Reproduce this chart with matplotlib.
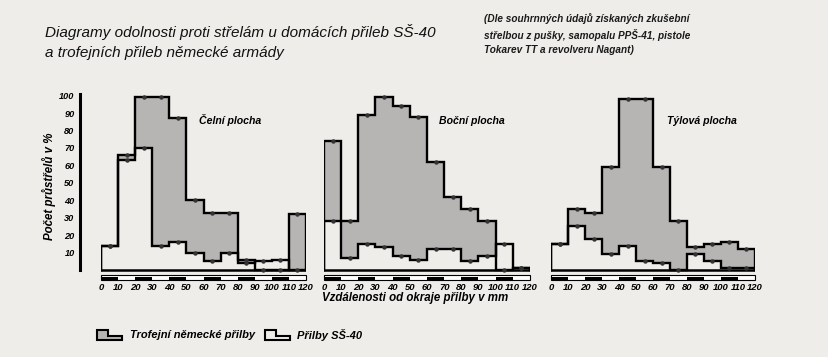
import numpy as np
import matplotlib
matplotlib.use("Agg")
import matplotlib.pyplot as plt
from matplotlib.patches import Rectangle, Polygon

# bin edges of distance from helmet rim (mm)
edges = np.arange(0, 130, 10)
centers = edges[:-1] + 5

panel_titles = ["Čelní plocha", "Boční plocha", "Týlová plocha"]
title_pos = [0.63, 0.72, 0.74]

# German trophy helmets (%)
german_front = [14, 66, 99, 99, 87, 40, 33, 33, 6, 0, 0, 32]
german_side = [74, 28, 89, 99, 94, 88, 62, 42, 35, 28, 0, 1]
german_back = [15, 35, 33, 59, 98, 98, 59, 28, 13, 15, 16, 12]

# SS-40 helmets (%)
ss40_front = [14, 63, 70, 14, 16, 10, 5, 10, 4, 5, 6, 0]
ss40_side = [28, 7, 15, 13, 8, 6, 12, 12, 5, 8, 15, 1]
ss40_back = [15, 25, 18, 9, 14, 5, 4, 0, 9, 5, 1, 1]

yticks = [10, 20, 30, 40, 50, 60, 70, 80, 90, 100]
xticks = list(range(0, 130, 10))

BG = "#eeedea"
GRAY = "#b6b5b3"

plt.rcParams['font.family'] = ["Liberation Sans", "DejaVu Sans"]


def step_xy(vals):
    x = np.repeat(edges, 2)
    y = np.concatenate([[0], np.repeat(vals, 2), [0]])
    return x, y


def draw_panel(ax, german, ss40, title, tpos):
    ax.set_facecolor("none")
    gx, gy = step_xy(german)
    sx, sy = step_xy(ss40)
    ax.fill(gx, gy, color=GRAY, lw=0)
    ax.fill(sx, sy, color=BG, lw=0)
    ax.plot(gx, gy, color="black", lw=1.7, solid_joinstyle="miter")
    ax.plot(sx, sy, color="black", lw=1.7, solid_joinstyle="miter")
    ax.plot([0, 120], [0, 0], color="black", lw=1.8)
    ax.plot(centers, german, "o", color="#333333", ms=2.2)
    ax.plot(centers, ss40, "o", color="#333333", ms=2.2)
    # scale bar under the axis
    ax.add_patch(Rectangle((0, -5.6), 120, 2.6, facecolor="white",
                           edgecolor="black", lw=0.8, clip_on=False))
    for e in edges[:-1:2]:
        ax.add_patch(Rectangle((e, -5.6), 10, 1.6, facecolor="black",
                               lw=0, clip_on=False))
    ax.set_xlim(0, 120)
    ax.set_ylim(-6, 102)
    ax.set_xticks(xticks)
    ax.set_xticklabels([str(t) for t in xticks], fontsize=6.8,
                       fontweight="bold", fontstyle="italic")
    ax.tick_params(axis="x", length=0, pad=1.5)
    for s in ["top", "right", "bottom", "left"]:
        ax.spines[s].set_visible(False)
    ax.set_yticks([])
    ax.text(tpos, 0.83, title, transform=ax.transAxes, ha="center",
            fontsize=7.6, fontweight="bold", fontstyle="italic")


fig = plt.figure(figsize=(8.29, 3.57), dpi=100)
fig.patch.set_facecolor(BG)

bottom = 1 - 280.5 / 357
height = (280.5 - 92.2) / 357
lefts = [101, 324, 551]
widths = [205, 206, 204]
data = [(german_front, ss40_front), (german_side, ss40_side),
        (german_back, ss40_back)]

axes = []
for i in range(3):
    ax = fig.add_axes([lefts[i] / 829, bottom, widths[i] / 829, height])
    draw_panel(ax, data[i][0], data[i][1], panel_titles[i], title_pos[i])
    axes.append(ax)

ax0 = axes[0]
ax0.spines["left"].set_visible(True)
ax0.spines["left"].set_position(("outward", 15))
ax0.spines["left"].set_bounds(0, 101)
ax0.spines["left"].set_linewidth(2.2)
ax0.set_yticks(yticks)
ax0.set_yticklabels([str(t) for t in yticks], fontsize=6.6,
                    fontweight="bold", fontstyle="italic")
ax0.tick_params(axis="y", length=0, pad=4)
ax0.set_ylabel("Počet průstřelů v %", fontsize=8.3, fontweight="bold",
               fontstyle="italic", labelpad=2)

fig.text(415 / 829, 1 - 298 / 357, "Vzdálenosti od okraje přilby v mm",
         ha="center", va="center", fontsize=8.3, fontweight="bold",
         fontstyle="italic")

fig.text(45 / 829, 1 - 42 / 357,
         "Diagramy odolnosti proti střelám u domácích přileb SŠ-40\n"
         "a trofejních přileb německé armády",
         ha="left", va="center", fontsize=11, fontstyle="italic",
         linespacing=1.5, color="#111111")

fig.text(484 / 829, 1 - 34 / 357,
         "(Dle souhrnných údajů získaných zkušební\n"
         "střelbou z pušky, samopalu PPŠ-41, pistole\n"
         "Tokarev TT a revolveru Nagant)",
         ha="left", va="center", fontsize=7.2, fontweight="bold",
         fontstyle="italic", linespacing=1.5, color="#1a1a1a")


# legend icons (small step shapes)
def legend_icon(x0, y0, color):
    w, h = 25 / 829, 10 / 357
    pts = [(x0, y0), (x0 + w, y0), (x0 + w, y0 + h * 0.45),
           (x0 + w * 0.45, y0 + h * 0.45), (x0 + w * 0.45, y0 + h),
           (x0, y0 + h)]
    fig.patches.append(Polygon(pts, closed=True, facecolor=color,
                               edgecolor="black", lw=1.5,
                               transform=fig.transFigure, figure=fig))


legend_icon(97 / 829, 1 - 340 / 357, GRAY)
legend_icon(265 / 829, 1 - 340 / 357, BG)
fig.text(130 / 829, 1 - 335 / 357, "Trofejní německé přilby", ha="left",
         va="center", fontsize=8, fontweight="bold", fontstyle="italic")
fig.text(297 / 829, 1 - 335 / 357, "Přilby SŠ-40", ha="left",
         va="center", fontsize=8, fontweight="bold", fontstyle="italic")

fig.savefig("out.png", dpi=100, facecolor=BG)
